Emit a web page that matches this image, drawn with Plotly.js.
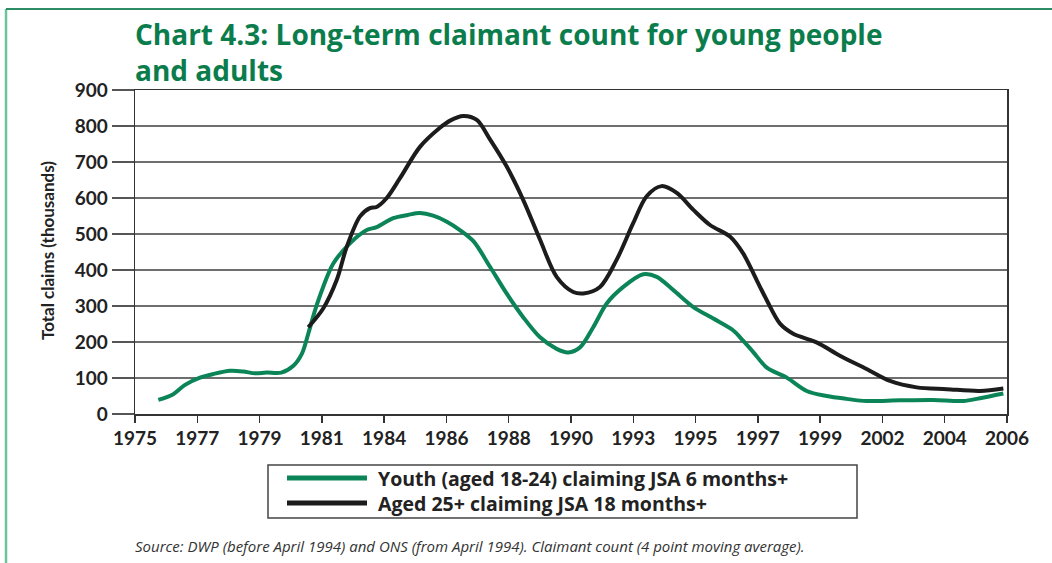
<!DOCTYPE html>
<html>
<head>
<meta charset="utf-8">
<script src="https://cdn.plot.ly/plotly-3.0.1.min.js"></script>
<style>html,body{margin:0;padding:0;background:#fff;}#chart{width:1052px;height:563px;}</style>
</head>
<body>
<div id="chart"></div>
<script>
// Tick labels (evenly spaced across 1975-2006)
const tickLabels = ["1975","1977","1979","1981","1984","1986","1988","1990","1993","1995","1997","1999","2002","2004","2006"];

// Youth (aged 18-24) claiming JSA 6 months+ (thousands)
const youthYears = [1975.83,1976.36,1976.78,1977.31,1977.78,1978.38,1978.85,1979.27,1979.68,1980.2,1980.63,1980.93,1981.16,1981.4,1981.69,1982.05,1982.64,1983.24,1983.59,1984.18,1984.7,1985.13,1985.6,1986.07,1986.55,1987.03,1987.62,1988.21,1988.8,1989.4,1989.99,1990.4,1990.82,1991.29,1991.77,1992.36,1993.07,1993.55,1994.14,1994.85,1995.56,1996.27,1996.6,1996.98,1997.46,1998.17,1998.88,1999.59,2000.3,2001.01,2002.19,2003.38,2004.44,2005.04,2005.87];
const youthValues = [39,55,81,101,111,120,118,113,115,115,134,167,223,288,353,418,474,511,519,544,553,558,551,535,511,480,409,335,269,213,181,171,185,241,307,353,388,381,344,297,265,232,205,172,129,101,64,50,42,36,38,39,36,44,57];

// Aged 25+ claiming JSA 18 months+ (thousands)
const adultYears = [1981.16,1981.69,1982.17,1982.53,1983.0,1983.35,1983.59,1983.95,1984.42,1985.13,1985.84,1986.2,1986.67,1987.15,1987.62,1988.21,1988.8,1989.4,1989.99,1990.58,1990.94,1991.53,1992.12,1992.71,1993.19,1993.72,1994.26,1994.85,1995.44,1996.15,1996.62,1997.1,1997.46,1997.93,1998.4,1999.23,2000.06,2001.01,2001.84,2002.79,2003.86,2005.04,2005.87];
const adultValues = [241,293,372,465,549,572,575,600,655,742,795,815,828,817,763,688,595,484,381,339,335,353,428,530,605,633,614,567,525,493,446,372,316,251,223,199,162,125,92,74,69,64,71];

const seriesNames = ["Youth (aged 18-24) claiming JSA 6 months+", "Aged 25+ claiming JSA 18 months+"];
const titleLines = ["Chart 4.3: Long-term claimant count for young people", "and adults"];
const yTitle = "Total claims (thousands)";
const sourceNote = "Source: DWP (before April 1994) and ONS (from April 1994). Claimant count (4 point moving average).";

const GREEN = "#0b8557";
const BLACK = "#1c1c1c";
const FONT = "Lato, 'Open Sans', sans-serif";
const WIDE = "'Open Sans', Lato, sans-serif";

const tickVals = tickLabels.map((_, i) => 1975 + i * 31 / (tickLabels.length - 1));

const traces = [
  {x: youthYears, y: youthValues, type: "scatter", mode: "lines", name: seriesNames[0],
   line: {color: GREEN, width: 4, shape: "spline", smoothing: 0.9}, showlegend: false},
  {x: adultYears, y: adultValues, type: "scatter", mode: "lines", name: seriesNames[1],
   line: {color: BLACK, width: 4, shape: "spline", smoothing: 0.9}, showlegend: false}
];

// plot area: left 135, right 1007, top 90, bottom 414
const W = 872, H = 324, L = 135, T = 90;
const px = v => (v - L) / W;
const py = v => (T + H - v) / H;

const layout = {
  width: 1052, height: 563,
  margin: {l: 135, r: 45, t: 90, b: 149},
  paper_bgcolor: "#fff", plot_bgcolor: "#fff",
  font: {family: FONT, color: "#222"},
  xaxis: {
    range: [1975, 2006], tickmode: "array", tickvals: tickVals, ticktext: tickLabels,
    showgrid: false, zeroline: false, showline: true, linecolor: "#333", linewidth: 1.5, mirror: true,
    ticks: "outside", ticklen: 7, tickwidth: 1.5, tickcolor: "#333",
    tickfont: {family: FONT, size: 19, color: "#222", weight: "bold"}
  },
  yaxis: {
    range: [0, 900], dtick: 100, tick0: 0,
    showgrid: true, gridcolor: "#6e6e6e", gridwidth: 1.5, zeroline: false,
    showline: true, linecolor: "#333", linewidth: 1.5, mirror: true,
    ticks: "outside", ticklen: 22, tickwidth: 1.5, tickcolor: "#555",
    tickfont: {family: FONT, size: 19, color: "#222", weight: "bold"}
  },
  shapes: [
    // outer frame (left and top green rules)
    {type: "line", xref: "paper", yref: "paper", x0: px(6), x1: px(6), y0: py(9), y1: py(563),
     line: {color: "#6cc49b", width: 2.5}},
    {type: "line", xref: "paper", yref: "paper", x0: px(6), x1: px(1052), y0: py(9), y1: py(9),
     line: {color: "#2b8c66", width: 2}},
    // legend box
    {type: "rect", xref: "paper", yref: "paper", x0: px(268), x1: px(857), y0: py(465), y1: py(518),
     line: {color: "#444", width: 1.5}, fillcolor: "rgba(0,0,0,0)"},
    {type: "line", xref: "paper", yref: "paper", x0: px(287), x1: px(367), y0: py(478), y1: py(478),
     line: {color: GREEN, width: 5}},
    {type: "line", xref: "paper", yref: "paper", x0: px(287), x1: px(367), y0: py(503), y1: py(503),
     line: {color: BLACK, width: 5}}
  ],
  annotations: [
    {text: titleLines.join("<br>"), xref: "paper", yref: "paper",
     x: px(133), y: py(52), xanchor: "left", yanchor: "middle", align: "left", showarrow: false,
     font: {family: WIDE, size: 28, color: "#0b7d4c", weight: "bold"}},
    {text: yTitle, xref: "paper", yref: "paper", x: px(47), y: py(251),
     xanchor: "center", yanchor: "middle", textangle: -90, showarrow: false,
     font: {family: FONT, size: 17, color: "#222", weight: "bold"}},
    {text: seriesNames.join("<br>"), xref: "paper", yref: "paper", x: px(376), y: py(491),
     xanchor: "left", yanchor: "middle", align: "left", showarrow: false,
     font: {family: WIDE, size: 19.5, color: "#222", weight: "bold"}},
    {text: "<i>" + sourceNote + "</i>",
     xref: "paper", yref: "paper", x: px(133), y: py(546), xanchor: "left", yanchor: "middle", showarrow: false,
     font: {family: WIDE, size: 15, color: "#333"}}
  ]
};

Plotly.newPlot("chart", traces, layout, {displayModeBar: false, staticPlot: true});
</script>
</body>
</html>
